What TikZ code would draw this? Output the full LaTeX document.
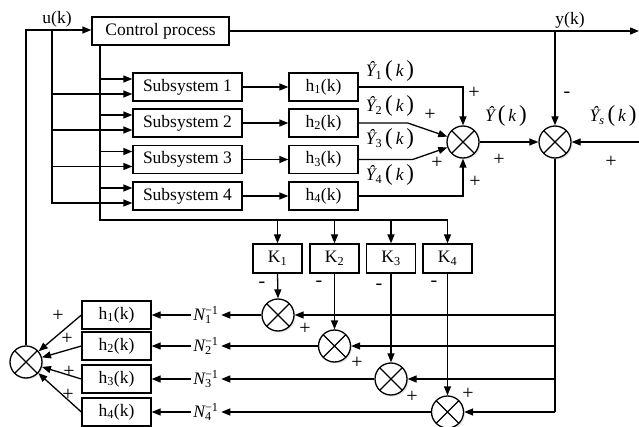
\documentclass[tikz,border=0pt]{standalone}
\usepackage{fontspec}
\setmainfont{Liberation Serif}
\usetikzlibrary{arrows.meta,shadows,calc}
\newcommand{\bigpar}[1]{{\fontsize{23}{23}\selectfont #1}}
\newcommand{\yhatlbl}[1]{{\itshape Ŷ}\textsubscript{#1}\,\bigpar{(}\,{\itshape k}\,\bigpar{)}}
\newcommand{\ninv}[1]{{\itshape N}\rlap{\textsubscript{#1}}\textsuperscript{−1}}
\begin{document}
\begin{tikzpicture}[x=1pt,y=-1pt,line width=1.3pt,
  >={Triangle[length=9pt,width=7pt]},
  box/.style={draw,rectangle,inner sep=0pt,fill=white,font=\fontsize{17.5}{20}\selectfont},
  sumj/.style={draw,circle,fill=white,minimum size=32pt,inner sep=0pt,
    drop shadow={shadow xshift=1.5pt,shadow yshift=-1.5pt,opacity=0.2},
    path picture={\draw[line width=1.3pt]
      (path picture bounding box.north west) -- (path picture bounding box.south east)
      (path picture bounding box.north east) -- (path picture bounding box.south west);}},
  lbl/.style={inner sep=0pt,font=\fontsize{17.5}{20}\selectfont},
  nlbl/.style={inner sep=2pt,font=\fontsize{17.5}{20}\selectfont},
  sgn/.style={inner sep=0pt,font=\fontsize{20}{22}\selectfont},
]
\useasboundingbox (0,0) rectangle (639,427);

% ---- top part ----
\node[box,minimum width=137pt,minimum height=28pt] (cp) at (160.5,31) {Control process};
\foreach \i/\y in {1/87,2/123,3/159.5,4/196}{
  \node[box,minimum width=109pt,minimum height=28pt] (sub\i) at (187.5,\y) {Subsystem \i};
  \node[box,minimum width=69pt,minimum height=28pt] (ht\i) at (323.5,\y) {h\textsubscript{\i}(k)};
}
\node[sumj] (s1) at (463,142) {};
\node[sumj] (s2) at (555,142) {};

% ---- K boxes and lower sums ----
\foreach \i/\x in {1/277.5,2/334.5,3/391,4/447.5}{
  \node[box,minimum width=49pt,minimum height=29pt] (k\i) at (\x,258.5) {K\textsubscript{\i}};
}
\node[sumj] (c1) at (278,315) {};
\node[sumj] (c2) at (334.5,346) {};
\node[sumj] (c3) at (391,379) {};
\node[sumj] (c4) at (447.5,412) {};

% ---- lower-left ----
\foreach \i/\y in {1/315,2/346,3/379,4/412}{
  \node[box,minimum width=69pt,minimum height=28pt] (hb\i) at (116.5,\y) {h\textsubscript{\i}(k)};
  \node[nlbl] (n\i) at (206,\y) {\ninv{\i}};
}
\node[sumj] (fs) at (26,362) {};

% ---- coordinates ----
\coordinate (ul) at (26,30);
\coordinate (ub) at (52,30);
\coordinate (cbt) at (100,45);
\coordinate (cbb) at (100,220);
\coordinate (yk) at (555,31);
\coordinate (yout) at (639,31);
\coordinate (ysin) at (639,142);
\coordinate (rb) at (555,412);

% ---- connectors ----
\draw[->] (fs.north) -- (ul) -- (ul -| cp.west);
\draw[->] (ub) |- ($(sub4.west)+(0,7)$);
\foreach \i in {1,2,3}{
  \draw[->] (ub |- {$(sub\i.west)+(0,7)$}) -- ($(sub\i.west)+(0,7)$);
}
\draw (cbt) -- (cbb) -- (cbb -| k4.north);
\foreach \i in {1,2,3,4}{
  \draw[->] (cbt |- {$(sub\i.west)+(0,-8)$}) -- ($(sub\i.west)+(0,-8)$);
  \draw[->] (sub\i) -- (ht\i);
  \draw[->] (cbb -| k\i.north) -- (k\i.north);
  \draw[->] (k\i.south) -- (c\i.north);
  \draw[->] (c\i.west) -- (c\i.west -| n\i.east);
  \draw[->] (n\i.west) -- (n\i.west -| hb\i.east);
  \draw[->] (hb\i.west) -- (fs);
}
\draw[->] (ht1.east) -| (s1.north);
\draw[->] (ht2.east) -- ++(49,0) -- (s1);
\draw[->] (ht3.east) -- ++(54,0) -- (s1);
\draw[->] (ht4.east) -| (s1.south);
\draw[->] (s1) -- (s2);
\draw[->] (cp.east) -- (yout);
\draw[->] (yk) -- (s2.north);
\draw[->] (ysin) -- (s2.east);
\draw (s2.south) -- (rb);
\foreach \i in {1,2,3}{
  \draw[->] (rb |- c\i.east) -- (c\i.east);
}
\draw[->] (rb) -- (c4.east);

% ---- labels ----
\node[lbl] (lu) at (57,19) {u(k)};
\node[lbl] (ly) at (570,20) {y(k)};
\node[lbl] (ly1) at (390,71) {\yhatlbl{1}};
\node[lbl] (ly2) at (390,106) {\yhatlbl{2}};
\node[lbl] (ly3) at (390,139) {\yhatlbl{3}};
\node[lbl] (ly4) at (390,175) {\yhatlbl{4}};
\node[lbl] (lyh) at (506,116) {{\itshape Ŷ}\,\bigpar{(}\,{\itshape k}\,\bigpar{)}};
\node[lbl] (lys) at (613,116) {\yhatlbl{\itshape s}};

\node[sgn] (p1) at (474,93) {+};
\node[sgn] (p2) at (430,115) {+};
\node[sgn] (p3) at (437,163) {+};
\node[sgn] (p4) at (475,182) {+};
\node[sgn] (p5) at (499,160) {+};
\node[sgn] (p6) at (611,162) {+};
\node[sgn] (m0) at (567,95) {-};

\node[sgn] (m1) at (262,285) {-};
\node[sgn] (m2) at (319,284) {-};
\node[sgn] (m3) at (379,287) {-};
\node[sgn] (m4) at (434,284) {-};
\node[sgn] (q1) at (305,329) {+};
\node[sgn] (q2) at (357,363) {+};
\node[sgn] (q3) at (412,397) {+};
\node[sgn] (q4) at (468,394) {+};

\node[sgn] (r1) at (58,316) {+};
\node[sgn] (r2) at (67,339) {+};
\node[sgn] (r3) at (69,372) {+};
\node[sgn] (r4) at (68,395) {+};
\end{tikzpicture}
\end{document}
